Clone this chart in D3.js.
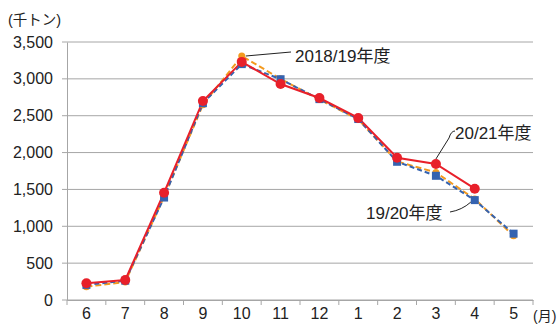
<!DOCTYPE html>
<html><head><meta charset="utf-8">
<script src="https://cdn.jsdelivr.net/npm/d3@7"></script>
<style>
html,body{margin:0;padding:0;background:#fff;}
text{font-family:"Liberation Sans",Arial,"Noto Sans CJK JP",sans-serif;fill:#222;}
</style></head>
<body><svg id="c" width="560" height="325"></svg>
<script>
// months of the fiscal year (June → May)
const months = ["6","7","8","9","10","11","12","1","2","3","4","5"];
const yTicks = [0,500,1000,1500,2000,2500,3000,3500];
// thousand tonnes per month
const fy2018 = [180,245,1400,2650,3310,3000,2720,2450,1880,1730,1370,870];
const fy2019 = [205,262,1390,2670,3200,2995,2725,2455,1875,1685,1355,900];
const fy2020 = [228,272,1455,2700,3230,2930,2740,2470,1930,1845,1510,null];

(function draw(){
const svg = d3.select("#c");
const mLeft = 67, mRight = 533, mTop = 42, mBottom = 300;
const x = d3.scaleBand().domain(months).range([mLeft, mRight]);
const y = d3.scaleLinear().domain([0,3500]).range([mBottom, mTop]);
const cx = m => x(m) + x.bandwidth()/2;

// horizontal grid
svg.append("g").selectAll("line").data(yTicks).join("line")
  .attr("x1", mLeft-5).attr("x2", mRight)
  .attr("y1", d=>y(d)).attr("y2", d=>y(d))
  .attr("stroke", "#a6a6a6").attr("stroke-width", 1);

// y axis
const yAxis = svg.append("g").attr("transform", `translate(${mLeft},0)`)
  .call(d3.axisLeft(y).tickValues(yTicks).tickSize(0).tickPadding(14).tickFormat(d3.format(",")));
yAxis.select(".domain").attr("stroke", "#a6a6a6");
yAxis.selectAll("text").attr("font-size", 16).attr("fill", "#222");

// x axis
const xAxis = svg.append("g").attr("transform", `translate(0,${mBottom})`)
  .call(d3.axisBottom(x).tickSize(0).tickPadding(8));
xAxis.select(".domain").attr("stroke", "#a6a6a6");
xAxis.selectAll("text").attr("font-size", 16).attr("fill", "#222");
xAxis.append("g").selectAll("line").data(months.concat(["end"])).join("line")
  .attr("x1", (d,i)=>mLeft + i*x.bandwidth()).attr("x2", (d,i)=>mLeft + i*x.bandwidth())
  .attr("y1", 0).attr("y2", 5).attr("stroke", "#a6a6a6");

svg.append("text").attr("x", 8).attr("y", 25).attr("font-size", 14.5).text("(千トン)");
svg.append("text").attr("x", 533).attr("y", 321).attr("font-size", 14).text("(月)");

const line = d3.line().defined(d=>d.v!=null).x(d=>cx(d.m)).y(d=>y(d.v));
const pts = arr => months.map((m,i)=>({m, v:arr[i]}));

// 2018/19 — orange dashed
svg.append("path").datum(pts(fy2018)).attr("d", line)
  .attr("fill","none").attr("stroke","#f39a1f").attr("stroke-width",2).attr("stroke-dasharray","6,3");
// 2019/20 — blue dashed
svg.append("path").datum(pts(fy2019)).attr("d", line)
  .attr("fill","none").attr("stroke","#3563b0").attr("stroke-width",2).attr("stroke-dasharray","5,3");
// 2020/21 — red solid
svg.append("path").datum(pts(fy2020)).attr("d", line)
  .attr("fill","none").attr("stroke","#e8202a").attr("stroke-width",2);

svg.append("g").selectAll("circle").data(pts(fy2018).filter(d=>d.v!=null)).join("circle")
  .attr("cx", d=>cx(d.m)).attr("cy", d=>y(d.v)).attr("r", 3.5).attr("fill", "#f39a1f");
svg.append("g").selectAll("rect").data(pts(fy2019).filter(d=>d.v!=null)).join("rect")
  .attr("x", d=>cx(d.m)-4).attr("y", d=>y(d.v)-4).attr("width", 8).attr("height", 8).attr("fill", "#3563b0");
svg.append("g").selectAll("circle").data(pts(fy2020).filter(d=>d.v!=null)).join("circle")
  .attr("cx", d=>cx(d.m)).attr("cy", d=>y(d.v)).attr("r", 5).attr("fill", "#e8202a");

// series labels with leader lines
const lab = svg.append("g");
lab.append("line").attr("x1", cx("10")+4).attr("y1", y(fy2018[4])).attr("x2", 291).attr("y2", 52)
  .attr("stroke","#222").attr("stroke-width",1);
lab.append("text").attr("x", 295).attr("y", 62).attr("font-size", 17).text("2018/19年度");

lab.append("path").attr("d", `M${cx("3")},${y(fy2020[9])-5} L449,138 Q451,131 455,131`)
  .attr("fill","none").attr("stroke","#222").attr("stroke-width",1);
lab.append("text").attr("x", 455).attr("y", 139).attr("font-size", 17).text("20/21年度");

lab.append("path").attr("d", `M450,212 Q462,210 ${cx("4")-4},${y(fy2019[10])+2}`)
  .attr("fill","none").attr("stroke","#222").attr("stroke-width",1);
lab.append("text").attr("x", 366).attr("y", 219).attr("font-size", 17).text("19/20年度");
})();
</script></body></html>
